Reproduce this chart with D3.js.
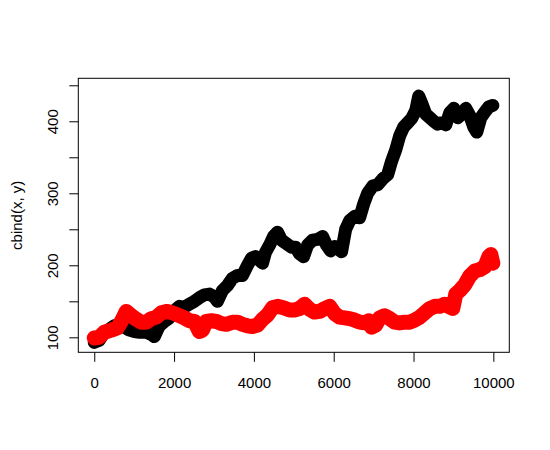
<!DOCTYPE html>
<html>
<head>
<meta charset="utf-8">
<script src="https://cdn.jsdelivr.net/npm/d3@7"></script>
<style>
  body { margin: 0; background: #fff; }
  text { font-family: "Liberation Sans", Arial, sans-serif; }
</style>
</head>
<body>
<div id="chart"></div>
<script>
// series x (black), centre of the band
const blackSteps = [0,125,251,376,502,627,753,878,1004,1129,1305,1430,1506,1631,1757,1882,2008,2133,2258,2384,2509,2635,2760,2886,3011,3086,3212,3338,3463,3589,3714,3839,3940,4040,4141,4216,4291,4391,4492,4592,4693,4818,4944,5044,5144,5245,5345,5471,5596,5721,5822,5922,6023,6123,6198,6299,6399,6524,6650,6750,6851,6976,7102,7227,7353,7453,7553,7654,7754,7855,7955,8055,8130,8206,8306,8407,8507,8607,8708,8808,8908,9009,9109,9210,9310,9410,9510,9586,9686,9787,9887,9987];
const blackValues = [93,96,107,111,116,117,114,110,108,107,107,104,101,116,122,127,137,143,142,146,150,155,159,160,156,150,165,172,182,186,186,200,210,212,207,203,218,228,240,246,235,230,225,225,216,212,228,235,236,240,228,220,226,222,219,250,262,268,266,285,300,310,312,320,326,345,360,380,392,398,404,415,435,425,410,405,400,396,398,395,412,418,405,410,418,408,392,385,405,413,420,422];

// series y (red)
const redSteps = [0,125,251,427,577,678,803,928,1054,1179,1305,1430,1556,1681,1832,2008,2133,2258,2384,2509,2635,2710,2810,2936,3061,3187,3312,3463,3589,3714,3839,3965,4090,4216,4341,4467,4592,4743,4893,5019,5144,5270,5395,5521,5646,5771,5897,6023,6148,6274,6399,6524,6650,6775,6876,6951,7052,7152,7277,7403,7528,7654,7779,7905,8030,8156,8281,8407,8532,8657,8783,8908,8984,9059,9159,9285,9410,9536,9661,9787,9887,9937,9987];
const redValues = [99,100,107,110,113,122,136,130,125,121,121,126,128,134,136,133,130,127,123,122,108,110,122,123,122,119,118,121,121,118,116,115,117,125,131,141,143,141,138,138,140,146,139,135,136,140,143,133,128,127,126,124,121,120,123,114,117,127,130,126,121,120,121,121,124,128,134,140,143,143,146,142,140,160,165,173,185,192,194,198,212,215,203];

const xTicks = [0, 2000, 4000, 6000, 8000, 10000];
const yTicks = [100, 150, 200, 250, 300, 350, 400, 450];
const yLabel = "cbind(x, y)";

const W = 550, H = 450;
const box = { left: 78.3, right: 509.3, top: 78.3, bottom: 352.3 };

const svg = d3.select("#chart").append("svg")
    .attr("width", W)
    .attr("height", H);

const x = d3.scaleLinear()
    .domain([-400, 10400])
    .range([box.left, box.right]);

const y = d3.scaleLinear()
    .domain([79.2, 459.7])
    .range([box.bottom, box.top]);

const line = d3.line()
    .x(d => x(d[0]))
    .y(d => y(d[1]));

const black = d3.zip(blackSteps, blackValues);
const red = d3.zip(redSteps, redValues);

// lines: black first, red on top
svg.append("path")
    .attr("d", line(black))
    .style("fill", "none")
    .style("stroke", "#000")
    .style("stroke-width", 13)
    .style("stroke-linejoin", "round")
    .style("stroke-linecap", "round");

svg.append("path")
    .attr("d", line(red))
    .style("fill", "none")
    .style("stroke", "#ff0000")
    .style("stroke-width", 15)
    .style("stroke-linejoin", "round")
    .style("stroke-linecap", "round");

// axes
const xAxis = svg.append("g")
    .attr("transform", `translate(0,${box.bottom})`)
    .call(d3.axisBottom(x).tickValues(xTicks).tickFormat(d3.format("d"))
        .tickSize(9.5).tickPadding(15.6));

const yAxis = svg.append("g")
    .attr("transform", `translate(${box.left},0)`)
    .call(d3.axisLeft(y).tickValues(yTicks)
        .tickFormat(d => d % 100 === 0 ? d : "")
        .tickSize(9));

yAxis.selectAll("text")
    .attr("transform", "rotate(-90)")
    .attr("x", 0)
    .attr("y", -20.2)
    .attr("dy", 0)
    .attr("text-anchor", "middle");

[xAxis, yAxis].forEach(g => {
    g.select(".domain").remove();
    g.selectAll("line").attr("stroke", "#000");
    g.selectAll("text")
        .attr("fill", "#000")
        .style("font-size", "15px")
        .style("font-family", "'Liberation Sans', Arial, sans-serif");
});

// plot box
svg.append("rect")
    .attr("x", box.left)
    .attr("y", box.top)
    .attr("width", box.right - box.left)
    .attr("height", box.bottom - box.top)
    .style("fill", "none")
    .style("stroke", "#000")
    .style("stroke-width", 1);

// y title
svg.append("text")
    .attr("transform", `translate(22,${(box.top + box.bottom) / 2}) rotate(-90)`)
    .attr("text-anchor", "middle")
    .style("font-size", "15px")
    .text(yLabel);
</script>
</body>
</html>
